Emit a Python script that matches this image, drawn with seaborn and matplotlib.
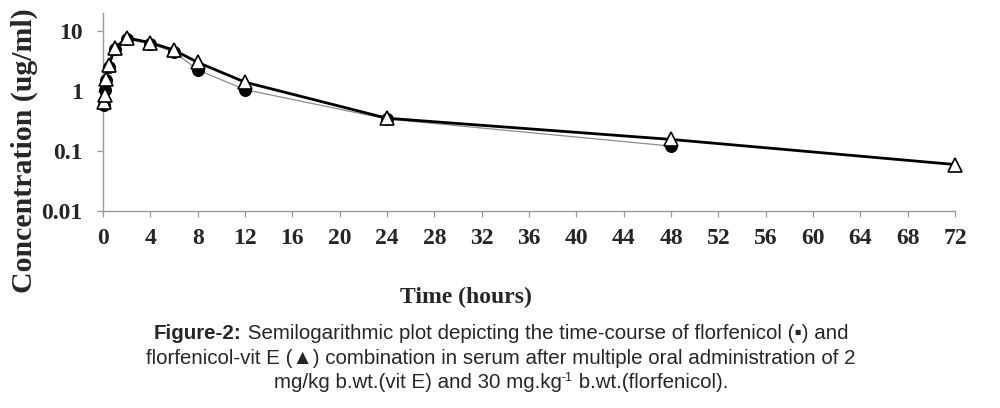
import matplotlib
matplotlib.use("Agg")
import matplotlib.pyplot as plt
import seaborn as sns
import pandas as pd
from matplotlib.ticker import NullLocator, FixedLocator, FixedFormatter

# ---- data ----
time_vitE = [0.083, 0.167, 0.25, 0.5, 1, 2, 4, 6, 8, 12, 24, 48, 72]
conc_vitE = [0.65, 0.85, 1.6, 2.7, 5.2, 7.7, 6.4, 4.8, 3.0, 1.4, 0.35, 0.155, 0.059]
time_flor = [0.083, 0.167, 0.25, 0.5, 1, 2, 4, 6, 8, 12, 24, 48]
conc_flor = [0.58, 1.05, 1.5, 2.5, 5.0, 7.3, 6.1, 4.5, 2.25, 1.05, 0.34, 0.12]
x_ticks = list(range(0, 73, 4))
y_ticks = [0.01, 0.1, 1, 10]
y_tick_labels = ["0.01", "0.1", "1", "10"]

sns.set_theme(style="white")
plt.rcParams["font.family"] = ["Liberation Serif", "DejaVu Serif"]

fig = plt.figure(figsize=(10, 4.08), dpi=100)
ax = fig.add_axes([0.103, 1 - 210.7 / 408, 0.852, (210.7 - 13) / 408])

df_flor = pd.DataFrame({"t": time_flor, "c": conc_flor})
df_vitE = pd.DataFrame({"t": time_vitE, "c": conc_vitE})

sns.lineplot(data=df_flor, x="t", y="c", ax=ax, color="#8c8c8c", linewidth=0.9,
             marker="o", markersize=8.5, markerfacecolor="black",
             markeredgecolor="black", markeredgewidth=0.8, clip_on=False,
             zorder=3)
sns.lineplot(data=df_vitE, x="t", y="c", ax=ax, color="black", linewidth=2.0,
             marker="^", markersize=10, markerfacecolor="white",
             markeredgecolor="black", markeredgewidth=1.2, clip_on=False,
             zorder=4)

ax.set_yscale("log")
ax.set_ylim(0.01, 20)
ax.set_xlim(0, 72)
ax.xaxis.set_major_locator(FixedLocator(x_ticks))
ax.set_xticklabels([str(v) for v in x_ticks])
ax.yaxis.set_major_locator(FixedLocator(y_ticks))
ax.yaxis.set_major_formatter(FixedFormatter(y_tick_labels))
ax.yaxis.set_minor_locator(NullLocator())
ax.set_xlabel("")
ax.set_ylabel("")

for s in ["top", "right"]:
    ax.spines[s].set_visible(False)
for s in ["left", "bottom"]:
    ax.spines[s].set_color("#9a9a9a")
    ax.spines[s].set_linewidth(1.0)

ax.tick_params(axis="both", which="major", direction="out", length=4.5,
               width=0.9, color="#9a9a9a", labelsize=17, bottom=True, left=True)
ax.tick_params(axis="x", pad=8)
ax.tick_params(axis="y", pad=10)
for lab in ax.get_xticklabels() + ax.get_yticklabels():
    lab.set_fontweight("bold")
    lab.set_family("Liberation Serif")

fig.text(24 / 1000, 1 - 151 / 408, "Concentration (ug/ml)", rotation=90,
         ha="center", va="center", fontsize=21.5, fontweight="bold",
         family="Liberation Serif")
fig.text(466 / 1000, 1 - 297 / 408, "Time (hours)", ha="center", va="center",
         fontsize=17, fontweight="bold", family="Liberation Serif")

# ---- caption ----
cap_family = ["Liberation Sans Narrow", "Liberation Sans", "DejaVu Sans"]
cap_size = 14.8
renderer = fig.canvas.get_renderer()


def draw_line(segments, yc):
    texts = []
    for txt, weight, size, dy in segments:
        t = fig.text(0, 0, txt, fontsize=size, fontweight=weight,
                     family=cap_family, ha="left", va="baseline")
        texts.append((t, dy))
    widths = [t.get_window_extent(renderer).width for t, _ in texts]
    total = sum(widths)
    x = 501 - total / 2
    for (t, dy), w in zip(texts, widths):
        t.set_position((x / 1000, 1 - (yc - dy) / 408))
        x += w


draw_line([("Figure-2:", "bold", cap_size, 0),
           (" Semilogarithmic plot depicting the time-course of florfenicol (\u25aa) and",
            "normal", cap_size, 0)], 339)
draw_line([("florfenicol-vit E (\u25b2) combination in serum after multiple oral administration of 2",
            "normal", cap_size, 0)], 363.5)
draw_line([("mg/kg b.wt.(vit E) and 30 mg.kg", "normal", cap_size, 0),
           ("-1", "normal", cap_size * 0.6, 7),
           (" b.wt.(florfenicol).", "normal", cap_size, 0)], 388)

fig.savefig("out.png", dpi=100, facecolor="white")
